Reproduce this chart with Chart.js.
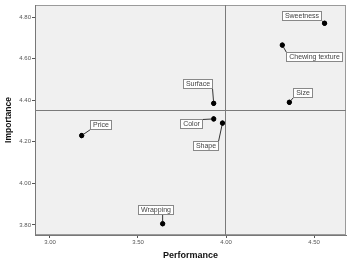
<!DOCTYPE html>
<html>
<head>
<meta charset="utf-8">
<script src="https://cdn.jsdelivr.net/npm/chart.js@4.4.1/dist/chart.umd.min.js"></script>
<style>
html,body{margin:0;padding:0;background:#fff;}
#wrap{width:350px;height:258px;}
</style>
</head>
<body>
<div id="wrap"><canvas id="c" width="350" height="258"></canvas></div>
<script>
// ---- data ----
const attributes = ['Sweetness','Chewing texture','Surface','Size','Color','Shape','Price','Wrapping'];
const performance = [4.56, 4.32, 3.93, 4.36, 3.93, 3.98, 3.18, 3.64];
const importance  = [4.77, 4.665, 4.385, 4.39, 4.31, 4.29, 4.23, 3.806];
const meanPerformance = 3.995;
const meanImportance = 4.352;
const xTickStep = 0.5;
const yTickStep = 0.2;
// label box offsets (style: pixels from point to label centre)
const labelOffsets = [[-23,-8],[32,11.5],[-16,-19.5],[13,-9.5],[-23,5],[-17,22],[19,-11],[-7,-14]];

const FONT = "'Liberation Sans', Arial, sans-serif";

const bgPlugin = {
  id: 'bg',
  beforeDraw(chart) {
    const {ctx, chartArea: a} = chart;
    ctx.save();
    ctx.fillStyle = '#f0f0f0';
    ctx.fillRect(a.left, a.top, a.right - a.left, a.bottom - a.top);
    ctx.strokeStyle = '#9a9a9a';
    ctx.lineWidth = 1;
    ctx.strokeRect(Math.round(a.left) + 0.5, Math.round(a.top) + 0.5, Math.round(a.right - a.left) - 1, Math.round(a.bottom - a.top) - 1);
    ctx.restore();
  },
  beforeDatasetsDraw(chart) {
    const {ctx, chartArea: a, scales} = chart;
    const xp = Math.round(scales.x.getPixelForValue(meanPerformance)) + 0.5;
    const yp = Math.round(scales.y.getPixelForValue(meanImportance)) + 0.5;
    ctx.save();
    ctx.strokeStyle = '#7a7a7a';
    ctx.lineWidth = 1;
    ctx.beginPath();
    ctx.moveTo(xp, a.top); ctx.lineTo(xp, a.bottom);
    ctx.moveTo(a.left, yp); ctx.lineTo(a.right, yp);
    ctx.stroke();
    ctx.restore();
  }
};

const labelPlugin = {
  id: 'labels',
  afterDatasetsDraw(chart) {
    const {ctx} = chart;
    const meta = chart.getDatasetMeta(0);
    ctx.save();
    ctx.font = '7px ' + FONT;
    ctx.textAlign = 'center';
    ctx.textBaseline = 'middle';
    meta.data.forEach((pt, i) => {
      const txt = attributes[i];
      const [dx, dy] = labelOffsets[i];
      const cx = pt.x + dx, cy = pt.y + dy;
      const w = Math.round(ctx.measureText(txt).width + 5);
      const h = 9;
      const l = Math.round(cx - w / 2) + 0.5, t = Math.round(cy - h / 2) + 0.5;
      const nx = Math.min(Math.max(pt.x, l), l + w);
      const ny = Math.min(Math.max(pt.y, t), t + h);
      ctx.strokeStyle = '#333';
      ctx.lineWidth = 1;
      ctx.beginPath();
      ctx.moveTo(pt.x, pt.y); ctx.lineTo(nx, ny);
      ctx.stroke();
      ctx.fillStyle = '#fff';
      ctx.fillRect(l, t, w, h);
      ctx.strokeStyle = '#888';
      ctx.strokeRect(l, t, w, h);
      ctx.fillStyle = '#444';
      ctx.fillText(txt, l + w / 2, t + h / 2 + 0.5);
      ctx.fillStyle = '#000';
      ctx.beginPath();
      ctx.ellipse(pt.x, pt.y, 2, 2.6, 0, 0, Math.PI * 2);
      ctx.fill();
    });
    ctx.restore();
  }
};

new Chart(document.getElementById('c'), {
  type: 'scatter',
  data: {
    datasets: [{
      data: performance.map((p, i) => ({x: p, y: importance[i]})),
      backgroundColor: '#000',
      borderColor: '#000',
      pointRadius: 2.2,
      pointHoverRadius: 2.2
    }]
  },
  options: {
    responsive: false,
    animation: false,
    devicePixelRatio: 1,
    layout: {padding: {top: 5, right: 4, left: 0, bottom: 0}},
    plugins: {legend: {display: false}, tooltip: {enabled: false}},
    scales: {
      x: {
        type: 'linear',
        min: 2.9148, max: 4.6818,
        afterFit(s) { s.height = 23; },
        ticks: {
          stepSize: xTickStep, includeBounds: false,
          callback: v => Number(v).toFixed(2),
          font: {size: 6, family: FONT}, color: '#555', padding: 1, maxRotation: 0
        },
        grid: {drawOnChartArea: false, drawTicks: true, tickLength: 3, color: '#555'},
        border: {display: true, color: '#777'},
        title: {display: true, text: 'Performance', font: {size: 9, weight: 'bold', family: FONT}, color: '#111', padding: {top: 1, bottom: -3}}
      },
      y: {
        type: 'linear',
        min: 3.7519, max: 4.8577,
        afterFit(s) { s.width = 35; },
        ticks: {
          stepSize: yTickStep, includeBounds: false,
          callback: v => Number(v).toFixed(2),
          font: {size: 6, family: FONT}, color: '#555', padding: 1
        },
        grid: {drawOnChartArea: false, drawTicks: true, tickLength: 3, color: '#555'},
        border: {display: true, color: '#777'},
        title: {display: true, text: 'Importance', font: {size: 8.5, weight: 'bold', family: FONT}, color: '#111', padding: {top: 4, bottom: 0}}
      }
    }
  },
  plugins: [bgPlugin, labelPlugin]
});
</script>
</body>
</html>
